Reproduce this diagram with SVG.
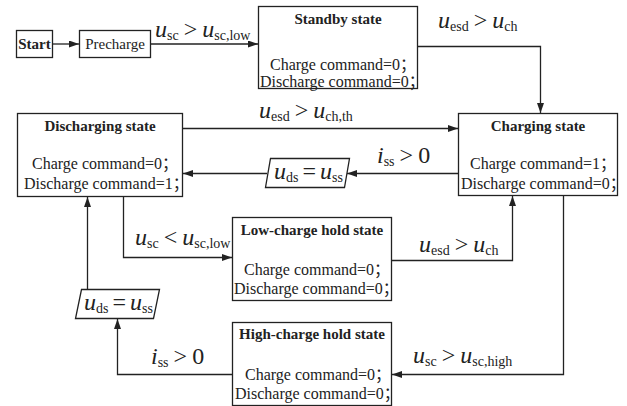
<svg xmlns="http://www.w3.org/2000/svg" width="627" height="406" viewBox="0 0 627 406">
<defs>
<marker id="ah" markerUnits="userSpaceOnUse" markerWidth="10" markerHeight="7" refX="10" refY="3.5" orient="auto">
<path d="M0,0 L10,3.5 L0,7 z" fill="#222"/>
</marker>
<style>
.box{fill:#fff;stroke:#222;stroke-width:1.3}
.t{font-family:"Liberation Serif","Noto Sans CJK SC",serif;font-size:15px;fill:#222;text-anchor:middle}
.b{font-weight:bold}
.l{font-family:"Liberation Serif","Noto Sans CJK SC",serif;font-size:16px;fill:#222}
.m{font-family:"Liberation Serif",serif;font-size:24px;fill:#222}
.i{font-style:italic}
.s{font-size:14px}
.c{fill:none;stroke:#222;stroke-width:1.3;marker-end:url(#ah)}
.p{fill:#fff;stroke:#222;stroke-width:1.3}
</style>
</defs>
<rect width="627" height="406" fill="#fff"/>

<g id="start">
<rect class="box" x="16.5" y="30.5" width="36" height="27"/>
<text class="t b" x="34.5" y="49">Start</text>
</g>
<g id="precharge">
<rect class="box" x="79.5" y="30.5" width="71" height="27"/>
<text class="t" x="115" y="49">Precharge</text>
</g>
<g id="standby">
<rect class="box" x="258.5" y="6.5" width="159" height="82"/>
<text class="t b" x="338" y="24">Standby state</text>
<text class="l" x="270" y="70">Charge command=0；</text>
<text class="l" x="260" y="86.5">Discharge command=0；</text>
</g>
<g id="charging">
<rect class="box" x="458.5" y="113.5" width="159" height="82"/>
<text class="t b" x="538" y="131">Charging state</text>
<text class="l" x="470" y="169">Charge command=1；</text>
<text class="l" x="461" y="189">Discharge command=0；</text>
</g>
<g id="discharging">
<rect class="box" x="17.5" y="113.5" width="165" height="83"/>
<text class="t b" x="100" y="131">Discharging state</text>
<text class="l" x="32" y="169">Charge command=0；</text>
<text class="l" x="24" y="189">Discharge command=1；</text>
</g>
<g id="lowcharge">
<rect class="box" x="232.5" y="217.5" width="159" height="83"/>
<text class="t b" x="312" y="235">Low-charge hold state</text>
<text class="l" x="244" y="275">Charge command=0；</text>
<text class="l" x="234" y="294">Discharge command=0；</text>
</g>
<g id="highcharge">
<rect class="box" x="232.5" y="322.5" width="159" height="83"/>
<text class="t b" x="312" y="339">High-charge hold state</text>
<text class="l" x="245" y="380">Charge command=0；</text>
<text class="l" x="235" y="399">Discharge command=0；</text>
</g>
<g id="cond1">
<polygon class="p" points="270.5,158.5 349.5,158.5 344.5,187.5 265.5,187.5"/>
<text class="m" x="274" y="179"><tspan class="i">u</tspan><tspan class="s" dy="3">ds</tspan><tspan dy="-3" dx="4">=</tspan><tspan class="i" dx="4">u</tspan><tspan class="s" dy="3">ss</tspan></text>
</g>
<g id="cond2">
<polygon class="p" points="81.5,289.5 159.5,289.5 153.5,318.5 75.5,318.5"/>
<text class="m" x="84" y="310"><tspan class="i">u</tspan><tspan class="s" dy="3">ds</tspan><tspan dy="-3" dx="4">=</tspan><tspan class="i" dx="4">u</tspan><tspan class="s" dy="3">ss</tspan></text>
</g>

<g id="connectors">
<path class="c" d="M53,44 H79"/>
<path class="c" d="M151,44 H258"/>
<path class="c" d="M418,46.5 H540.5 V113"/>
<path class="c" d="M183,128.5 H458"/>
<path class="c" d="M458,173.5 H347"/>
<path class="c" d="M267,173.5 H183"/>
<path class="c" d="M123.5,197 V257.5 H232"/>
<path class="c" d="M392,260.5 H512.5 V196"/>
<path class="c" d="M563.5,196 V374.5 H392"/>
<path class="c" d="M232,374.5 H117.5 V319"/>
<path class="c" d="M87.5,289 V197"/>
</g>

<g id="labels">
<text class="m" x="155" y="37"><tspan class="i">u</tspan><tspan class="s" dy="3">sc</tspan><tspan dy="-3" dx="5">&gt;</tspan><tspan class="i" dx="5">u</tspan><tspan class="s" dy="3">sc,low</tspan></text>
<text class="m" x="438" y="28"><tspan class="i">u</tspan><tspan class="s" dy="3">esd</tspan><tspan dy="-3" dx="5">&gt;</tspan><tspan class="i" dx="5">u</tspan><tspan class="s" dy="3">ch</tspan></text>
<text class="m" x="259" y="118"><tspan class="i">u</tspan><tspan class="s" dy="3">esd</tspan><tspan dy="-3" dx="5">&gt;</tspan><tspan class="i" dx="5">u</tspan><tspan class="s" dy="3">ch,th</tspan></text>
<text class="m" x="377" y="163"><tspan class="i">i</tspan><tspan class="s" dy="3">ss</tspan><tspan dy="-3" dx="5">&gt;</tspan><tspan dx="5">0</tspan></text>
<text class="m" x="135" y="245"><tspan class="i">u</tspan><tspan class="s" dy="3">sc</tspan><tspan dy="-3" dx="5">&lt;</tspan><tspan class="i" dx="5">u</tspan><tspan class="s" dy="3">sc,low</tspan></text>
<text class="m" x="419" y="252"><tspan class="i">u</tspan><tspan class="s" dy="3">esd</tspan><tspan dy="-3" dx="5">&gt;</tspan><tspan class="i" dx="5">u</tspan><tspan class="s" dy="3">ch</tspan></text>
<text class="m" x="413" y="363"><tspan class="i">u</tspan><tspan class="s" dy="3">sc</tspan><tspan dy="-3" dx="5">&gt;</tspan><tspan class="i" dx="5">u</tspan><tspan class="s" dy="3">sc,high</tspan></text>
<text class="m" x="151" y="364"><tspan class="i">i</tspan><tspan class="s" dy="3">ss</tspan><tspan dy="-3" dx="5">&gt;</tspan><tspan dx="5">0</tspan></text>
</g>
</svg>
